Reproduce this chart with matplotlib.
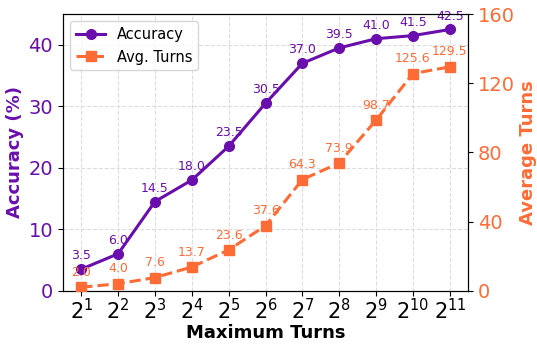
import matplotlib.pyplot as plt
import numpy as np

exponents = list(range(1, 12))
accuracy = [3.5, 6.0, 14.5, 18.0, 23.5, 30.5, 37.0, 39.5, 41.0, 41.5, 42.5]
avg_turns = [2.0, 4.0, 7.6, 13.7, 23.6, 37.6, 64.3, 73.9, 98.7, 125.6, 129.5]

PURPLE = "#6A0DAD"
ORANGE = "#FF6B35"

fig, ax1 = plt.subplots(figsize=(5.37, 3.44), dpi=100)
ax2 = ax1.twinx()

l1, = ax1.plot(exponents, accuracy, color=PURPLE, marker="o", markersize=7,
               linewidth=2.2, label="Accuracy", zorder=3)
l2, = ax2.plot(exponents, avg_turns, color=ORANGE, marker="s", markersize=7,
               linewidth=2.2, linestyle="--", label="Avg. Turns", zorder=3)

for x, v in zip(exponents, accuracy):
    ax1.annotate(f"{v:.1f}", (x, v), textcoords="offset points", xytext=(0, 5),
                 ha="center", va="bottom", fontsize=9, color=PURPLE)
for x, v in zip(exponents, avg_turns):
    ax2.annotate(f"{v:.1f}", (x, v), textcoords="offset points", xytext=(0, 6),
                 ha="center", va="bottom", fontsize=9, color=ORANGE)

ax1.set_xlim(0.5, 11.5)
ax1.set_ylim(0, 45)
ax2.set_ylim(0, 160)
ax1.set_yticks([0, 10, 20, 30, 40])
ax2.set_yticks([0, 40, 80, 120, 160])
ax1.set_xticks(exponents)
ax1.set_xticklabels([f"$2^{{{k}}}$" for k in exponents], fontsize=15)
ax1.tick_params(axis="x", pad=2)

ax1.tick_params(axis="y", labelcolor=PURPLE, labelsize=14)
ax2.tick_params(axis="y", labelcolor=ORANGE, labelsize=14)

ax1.set_xlabel("Maximum Turns", fontsize=13, fontweight="bold", labelpad=0)
ax1.set_ylabel("Accuracy (%)", fontsize=13, fontweight="bold", color=PURPLE,
               labelpad=3)
ax2.set_ylabel("Average Turns", fontsize=13, fontweight="bold", color=ORANGE,
               labelpad=3)

ax1.grid(True, linestyle="--", color="#dddddd", linewidth=0.8)
ax1.set_axisbelow(True)

ax1.legend(handles=[l1, l2], loc="upper left", fontsize=10.5)

fig.subplots_adjust(left=0.117, right=0.872, top=0.959, bottom=0.155)
plt.savefig("out.png", dpi=100)
